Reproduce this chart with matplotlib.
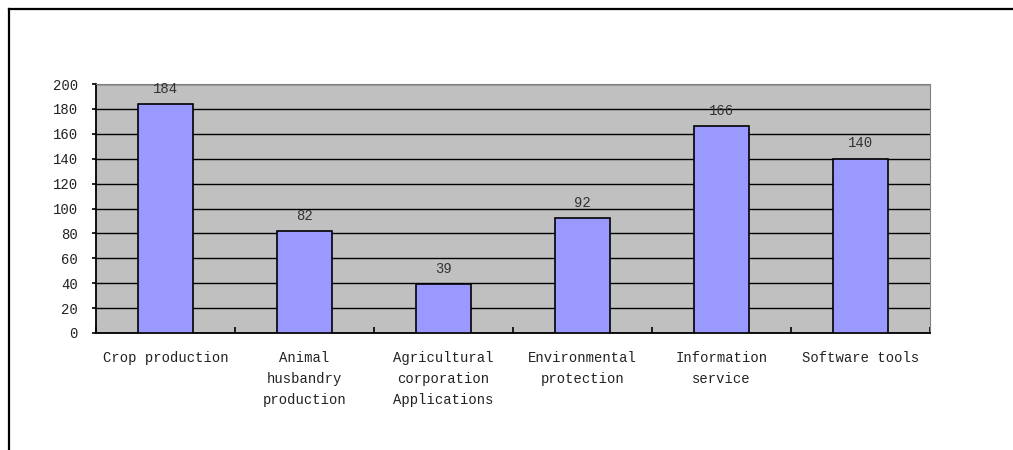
import numpy as np
import matplotlib.pyplot as plt
from matplotlib.lines import Line2D

categories = ["Crop production", "Animal\nhusbandry\nproduction",
              "Agricultural\ncorporation\nApplications", "Environmental\nprotection",
              "Information\nservice", "Software tools"]
values = [184, 82, 39, 92, 166, 140]
yticks = [0, 20, 40, 60, 80, 100, 120, 140, 160, 180, 200]

plt.rcParams['font.family'] = ['Liberation Mono', 'DejaVu Sans']

fig = plt.figure(figsize=(10.13, 4.5), dpi=100)
ax = fig.add_axes([96/1013, 1-333/450, (930-96)/1013, (333-84)/450])
ax.set_facecolor("#C0C0C0")

x = np.arange(len(values))
bars = ax.bar(x, values, width=0.4, color="#9999FF", edgecolor="black", linewidth=1.2, zorder=3)
for b, v in zip(bars, values):
    ax.annotate(str(v), (b.get_x()+b.get_width()/2, v), xytext=(0, 6), textcoords="offset points",
                ha="center", va="bottom", fontsize=10, color="#333333")

ax.set_xlim(-0.5, len(values)-0.5)
ax.set_ylim(0, 200)
ax.set_yticks(yticks)
ax.yaxis.grid(True, color="black", linewidth=1.0, zorder=1)
ax.set_axisbelow(True)
ax.tick_params(axis="y", direction="out", length=3, width=1.2, pad=10, labelsize=10, labelcolor="#222222")

# category labels centred, ticks on boundaries
ax.set_xticks(x)
ax.set_xticklabels(categories, fontsize=10, color="#222222", linespacing=1.65, va="top")
ax.tick_params(axis="x", which="major", length=0, pad=13)
ax.set_xticks(np.arange(len(values)+1)-0.5, minor=True)
ax.tick_params(axis="x", which="minor", direction="in", length=4, width=1.2)

ax.spines["left"].set_linewidth(1.3)
ax.spines["bottom"].set_linewidth(1.3)
ax.spines["top"].set_color("#808080")
ax.spines["right"].set_color("#808080")

# outer border (top and left only visible)
fig.add_artist(Line2D([8.5/1013, 1], [1-8.5/450, 1-8.5/450], color="black", linewidth=1.6,
                      transform=fig.transFigure))
fig.add_artist(Line2D([8.5/1013, 8.5/1013], [0, 1-8.5/450], color="black", linewidth=1.6,
                      transform=fig.transFigure))

plt.savefig("out.png")
